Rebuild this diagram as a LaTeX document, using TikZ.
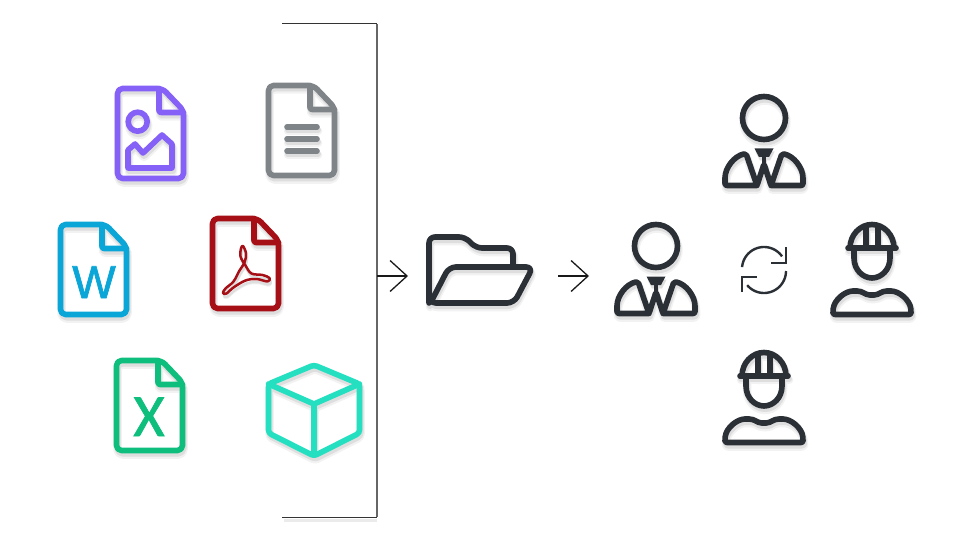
\documentclass[tikz,border=0pt]{standalone}
\usepackage{fontspec}
\usetikzlibrary{arrows.meta}
\usetikzlibrary{scopes}
\usetikzlibrary{calc}
\newfontfamily\wordfont[FakeBold=1.6]{Liberation Sans}
\newfontfamily\xlsfont[FakeBold=1.2]{Carlito}
\definecolor{imgcol}{HTML}{8561F8}
\definecolor{txtcol}{HTML}{7F8488}
\definecolor{wordcol}{HTML}{0AA6D8}
\definecolor{pdfcol}{HTML}{A50F15}
\definecolor{xlscol}{HTML}{0DBE7C}
\definecolor{boxcol}{HTML}{25DFC1}
\definecolor{darkcol}{HTML}{2A3036}
\tikzset{
  iconline/.style={line width=5.6pt,line join=round,line cap=round},
  shadeA/.style={color=black!5,line width=8.5pt,line join=round,line cap=round},
  shadeB/.style={color=black!13,line width=6pt,line join=round,line cap=round},
  pics/docfile/.style={code={
    \draw[rounded corners=5] (20,0) -- (45,0) -- (66,22) -- (66,90) -- (0,90) -- (0,0) -- cycle;
    \draw[rounded corners=2] (41.5,0) -- (41.5,24) -- (66,24);
  }},
  pics/docimage/.style={code={
    \pic {docfile};
    \draw (20.2,33.2) circle (9.5);
    \draw (10.5,61.5) -- (17.5,55.5) -- (25.5,64.5) -- (44.5,46.5) -- (54.5,55.5) -- (54.5,79.5) -- (10.5,79.5) -- cycle;
  }},
  pics/doctext/.style={code={
    \pic {docfile};
    \foreach \ty in {41.5,53.5,65.5}
      \draw (18.5,\ty) -- (48.5,\ty);
  }},
  pics/docpdf/.style={code={
    \pic {docfile};
    \draw[line width=2.5pt] plot[smooth cycle,tension=0.6] coordinates {
      (30.5,27.5) (33.5,35) (32,44) (27,52) (21,63) (13,70) (10.5,74.5) (14,75) (21,69) (33,62)
      (44,60.5) (55,63) (57,59.5) (50,56.5) (39,55) (33,47) (28,38) (28.5,30)};
  }},
  pics/cube/.style={code={
    \draw[rounded corners=3] (314,365) -- (359.5,384) -- (359.5,433) -- (314,456) -- (268.5,433) -- (268.5,384) -- cycle;
    \draw (268.5,384) -- (314,404) -- (359.5,384);
    \draw (314,404) -- (314,454);
  }},
  pics/folder/.style={code={
    \draw[rounded corners=6] (429,303) -- (429,237) -- (465,237) -- (476,248) -- (513,248) -- (513,267);
    \draw[rounded corners=7] (431,302) -- (449,267) -- (533,267) -- (514,303) -- (429,303) -- (429,280);
  }},
  pics/manager/.style={code={
    \draw (0,0) circle (21.5);
    \draw[rounded corners=2] (-7,67.5) -- (-39,67.5) -- (-39,62) .. controls (-39,50) and (-30,38) .. (-18,35.5) -- (-7,67.5) -- (0,46) -- (7,67.5) -- (18,35.5) .. controls (30,38) and (39,50) .. (39,62) -- (39,67.5) -- (7,67.5);
    \draw[line width=4.5pt,line cap=butt] (0,37) -- (0,48);
    \fill (-9.5,30.5) -- (9.5,30.5) -- (5,39) -- (-5,39) -- cycle;
  }},
  pics/worker/.style={code={
    \draw (-22,0) .. controls (-22,-13) and (-12,-23.5) .. (0,-23.5) .. controls (12,-23.5) and (22,-13) .. (22,0);
    \draw (-24,0) -- (24,0);
    \draw (-6,0) -- (-6,-22);
    \draw (6,0) -- (6,-22);
    \draw (-18,0) -- (-18,10) .. controls (-18,22) and (-9,30) .. (0,30) .. controls (9,30) and (18,22) .. (18,10) -- (18,0);
    \draw[rounded corners=2] (0,66.5) -- (-39,66.5) -- (-39,63) .. controls (-38,52) and (-27,43) .. (-17,43) .. controls (-9,43) and (-7,47) .. (0,47) .. controls (7,47) and (9,43) .. (17,43) .. controls (27,43) and (38,52) .. (39,63) -- (39,66.5) -- cycle;
  }},
  flow/.style={->,line width=1.3pt,color=black!90}
}
\newcommand{\iconat}[3]{%
  \pic[shadeA] at ($(#2)+(1,4)$) {#1};
  \pic[shadeB] at ($(#2)+(1,3)$) {#1};
  \pic[iconline,color=#3] at (#2) {#1};
}
\begin{document}
\begin{tikzpicture}[x=1pt,y=-1pt,>={Straight Barb[length=17pt,width=31pt]}]
\useasboundingbox (0,0) rectangle (960,540);

% bracket round the files
\draw[black!8,line width=3pt] (284,520) -- (377,520);
\draw[black!80,line width=1pt] (282,24) -- (377,24);
\draw[black!80,line width=1pt] (282,517) -- (377,517);
\draw[black!60,line width=1.4pt] (377,24) -- (377,517);

% files
\iconat{docimage}{117.5,88.5}{imgcol}
\iconat{doctext}{268.5,85.5}{txtcol}
\iconat{docfile}{60.5,224.5}{wordcol}
\iconat{docpdf}{212.5,218.5}{pdfcol}
\iconat{docfile}{116.5,360.5}{xlscol}
\iconat{cube}{0,0}{boxcol}
\node[anchor=base,inner sep=0,wordcol,font=\wordfont\fontsize{46}{46}\selectfont] (wordW) at (94,298) {W};
\node[anchor=base,inner sep=0,xlscol,font=\xlsfont\fontsize{60}{60}\selectfont] (xlsX) at (149,436) {X};

% folder and people
\iconat{folder}{0,0}{darkcol}
\iconat{manager}{656,246}{darkcol}
\iconat{manager}{764,118}{darkcol}
\iconat{worker}{872,248}{darkcol}
\iconat{worker}{764,376}{darkcol}

% sync sign
\begin{scope}[color=darkcol,line width=2.4pt]
    \draw plot[domain=185:325,samples=30] ({764+22*cos(\x)},{269+22*sin(\x)});
    \draw (786,247) -- (786,263) -- (771,263);
    \draw plot[domain=0:140,samples=30] ({764+22*cos(\x)},{271+22*sin(\x)});
    \draw (742,292) -- (742,277) -- (757,277);
\end{scope}

% arrows
\coordinate (bracket) at (377,276);
\coordinate (folderIn) at (408,276);
\coordinate (folderOut) at (558,276);
\coordinate (personIn) at (589,276);
\draw[flow] (bracket) -- (folderIn);
\draw[flow] (folderOut) -- (personIn);
\end{tikzpicture}
\end{document}
